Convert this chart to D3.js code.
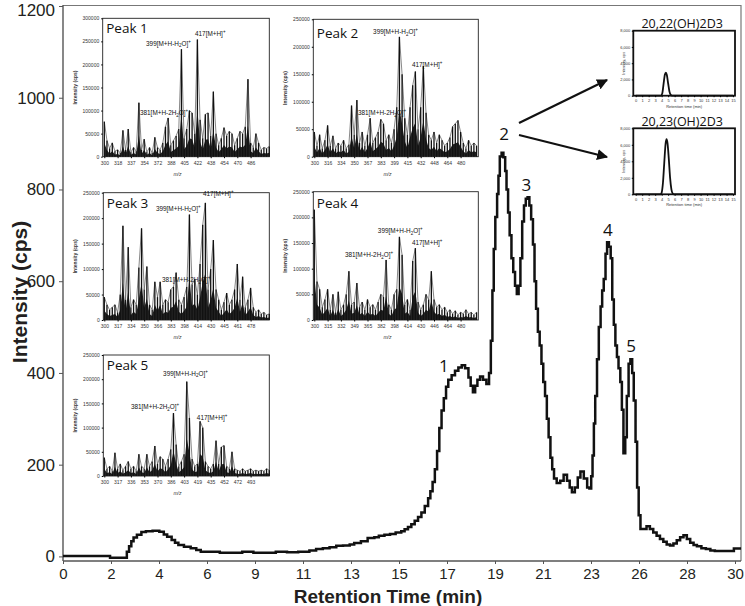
<!DOCTYPE html>
<html><head><meta charset="utf-8">
<script src="https://cdn.jsdelivr.net/npm/d3@7"></script>
<style>body{margin:0;background:#fff}svg{display:block}</style>
</head><body>
<svg id="c" width="745" height="606"></svg>
<script>
// ---------------- DATA ----------------
const yTicks=[0,200,400,600,800,1000,1200];
const xTickLabels=["0","2","4","6","9","11","13","15","17","19","21","23","26","28","30"];
const chromTime=[0,0.5,1,1.5,2,2.1,2.75,2.85,2.95,3.05,3.15,3.3,3.5,3.7,4,4.3,4.5,4.65,4.85,5,5.15,5.4,5.7,5.95,6.15,6.5,7,7.5,8,8.5,9,9.5,10,10.5,11,11.3,11.6,11.9,12.2,12.5,12.8,13,13.3,13.6,13.9,14.1,14.35,14.6,14.85,15.1,15.25,15.4,15.55,15.7,15.85,16,16.15,16.3,16.4,16.5,16.6,16.7,16.8,16.9,17,17.1,17.2,17.35,17.5,17.65,17.8,17.95,18.1,18.2,18.3,18.4,18.5,18.62,18.75,18.9,19.02,19.1,19.17,19.23,19.3,19.38,19.44,19.5,19.58,19.66,19.74,19.8,19.87,19.94,20.02,20.1,20.18,20.26,20.34,20.42,20.5,20.58,20.66,20.74,20.82,20.9,20.98,21.05,21.12,21.2,21.28,21.36,21.44,21.52,21.6,21.68,21.76,21.84,21.92,22.04,22.2,22.35,22.5,22.62,22.72,22.85,22.98,23.1,23.25,23.4,23.5,23.58,23.64,23.7,23.76,23.84,23.92,24,24.07,24.14,24.22,24.29,24.37,24.45,24.52,24.59,24.66,24.73,24.8,24.88,24.95,25.02,25.1,25.17,25.25,25.33,25.41,25.48,25.56,25.63,25.7,25.78,25.9,26.05,26.2,26.35,26.5,26.65,26.8,26.95,27.1,27.25,27.4,27.55,27.7,27.85,28,28.15,28.3,28.5,28.7,28.9,29.1,29.4,29.7,29.95,30.27];
const chromIntensity=[1,1,1,1,1,-3,-3,10,22,33,41,47,53,55,56,54,48,43,36,30,25,21,18,14,10,10,8,8,10,8,8,10,9,10,13,16,18,20,23,24,26,29,33,40,42,45,47,49,52,55,59,64,70,78,86,96,110,127,142,162,190,230,280,318,345,370,385,395,405,412,417,410,390,372,358,372,385,392,385,376,400,470,580,670,740,790,830,872,880,870,840,800,750,700,650,620,590,572,590,650,730,765,780,783,765,735,680,600,540,490,460,420,380,350,300,260,215,190,170,160,165,178,165,150,140,150,172,185,170,150,148,175,220,290,350,430,500,545,580,605,660,685,675,650,560,505,460,435,410,380,320,225,260,350,420,430,400,340,250,150,90,60,60,66,60,52,45,38,32,26,24,28,35,42,46,38,30,25,22,18,16,13,12,12,12,17,17];
const peakNames=["1","2","3","4","5"];
const peakNameTime=[17.0,19.69,20.69,24.33,25.36];
const peakNameValue=[402,908,797,699,446];

// MS spectra (intensity per m/z bin, cps)
const peak1Spectrum=[76000,35000,18000,30000,12000,15000,8000,57000,15000,60000,10000,20000,12000,117000,15000,38000,10000,20000,8000,42000,20000,15000,30000,65000,84000,25000,35000,45000,60000,233000,40000,60000,100000,95000,50000,254000,80000,40000,92000,95000,45000,141000,50000,25000,40000,63000,45000,55000,50000,25000,40000,55000,50000,65000,168000,30000,20000,50000,30000,15000,20000,18000,22000];
const peak2Spectrum=[45000,20000,40000,15000,30000,57000,20000,38000,15000,25000,20000,30000,15000,22000,93000,40000,103000,25000,45000,20000,40000,70000,25000,35000,45000,68000,60000,30000,40000,25000,50000,90000,218000,150000,70000,40000,90000,130000,155000,50000,90000,165000,80000,40000,30000,45000,25000,40000,30000,20000,25000,35000,55000,60000,66000,45000,25000,15000,30000,20000,25000,20000];
const peak3Spectrum=[45000,30000,20000,25000,30000,15000,50000,185000,40000,143000,25000,40000,30000,103000,180000,60000,105000,30000,20000,75000,45000,75000,30000,40000,35000,60000,65000,93000,40000,30000,45000,65000,207000,70000,80000,50000,110000,187000,230000,60000,100000,157000,60000,40000,20000,35000,53000,30000,40000,60000,110000,40000,85000,25000,40000,63000,25000,15000,20000,12000,15000,10000,12000];
const peak4Spectrum=[215000,75000,60000,25000,40000,60000,20000,50000,15000,55000,20000,30000,50000,95000,30000,35000,72000,25000,35000,20000,40000,25000,30000,20000,35000,50000,45000,117000,30000,20000,50000,60000,162000,127000,30000,40000,20000,115000,140000,35000,20000,30000,50000,40000,95000,40000,25000,30000,20000,25000,15000,20000,12000,18000,10000,15000,12000,20000,12000,15000,10000,15000];
const peak5Spectrum=[38000,15000,20000,10000,48000,15000,25000,12000,20000,30000,15000,20000,10000,45000,20000,15000,45000,20000,30000,62000,25000,40000,35000,20000,35000,55000,130000,65000,20000,30000,45000,195000,120000,35000,20000,25000,113000,100000,30000,20000,15000,25000,73000,25000,60000,63000,20000,15000,50000,15000,12000,10000,15000,10000,12000,15000,10000,12000,10000,12000,10000,15000,12000];
const peak1MzLabels=["300","318","337","354","372","388","405","422","438","454","470","486"];
const peak2MzLabels=["300","316","334","350","367","383","399","415","432","448","464","480"];
const peak3MzLabels=["300","317","334","350","366","383","398","414","430","445","461","478"];
const peak4MzLabels=["300","315","332","349","365","382","398","414","430","446","464","480"];
const peak5MzLabels=["300","317","336","353","370","386","403","419","435","452","472","493"];
const peakTitles=["Peak 1","Peak 2","Peak 3","Peak 4","Peak 5"];
const msMax=[300000,250000,250000,250000,250000];
// annotations: [text, bin, intensity]
const peak1Annot=[["399[M+H-H_2O]^+",15.7,241000],["417[M+H]^+",34.1,262700],["381[M+H-2H_2O]^+",13.4,90400]];
const peak2Annot=[["399[M+H-H_2O]^+",22.1,223000],["417[M+H]^+",36.7,163000],["381[M+H-2H_2O]^+",16.4,75900]];
const peak3Annot=[["417[M+H]^+",37.1,243500],["399[M+H-H_2O]^+",19.4,215000],["381[M+H-2H_2O]^+",21.7,74600]];
const peak4Annot=[["399[M+H-H_2O]^+",23.9,169500],["417[M+H]^+",36.7,146100],["381[M+H-2H_2O]^+",11.5,122800]];
const peak5Annot=[["399[M+H-H_2O]^+",22.1,207600],["381[M+H-2H_2O]^+",10.0,138400],["417[M+H]^+",34.8,116700]];

// standard chromatograms
const stdTimeTicks=[0,1,2,3,4,5,6,7,8,9,10,11,12,13,14,15];
const stdIntTicks=[0,2000,4000,6000,8000];
const std2022Time=[0,1,2,3,3.9,4.1,4.3,4.5,4.65,4.8,5,5.2,5.4,5.6,6,8,10,12,14,15];
const std2022Value=[0,0,0,0,0,300,1500,2600,2830,2550,1500,500,100,0,0,0,0,0,0,0];
const std2023Time=[0,1,2,3,3.85,4,4.2,4.4,4.6,4.75,4.9,5.1,5.3,5.5,5.7,5.9,6,8,10,12,14,15];
const std2023Value=[0,0,0,0,0,200,1400,3800,6100,6670,6200,4300,2000,600,100,0,0,0,0,0,0,0];
const stdTitles=["20,22(OH)2D3","20,23(OH)2D3"];

// ---------------- LAYOUT ----------------
const svg=d3.select("#c");
const sans="'Liberation Sans',Arial,sans-serif";
const myr="'Open Sans','Noto Sans',sans-serif";
const x=d3.scaleLinear().domain([0,30]).range([63,735]);
const y=d3.scaleLinear().domain([-10,1200]).range([561,6]);

// frame
svg.append("line").attr("x1",63).attr("x2",741).attr("y1",5.5).attr("y2",5.5).attr("stroke","#777").attr("stroke-width",1.2);
svg.append("line").attr("x1",741).attr("x2",741).attr("y1",5).attr("y2",561).attr("stroke","#777").attr("stroke-width",1.2);
svg.append("line").attr("x1",63).attr("x2",63).attr("y1",5).attr("y2",561).attr("stroke","#555").attr("stroke-width",1.4);
svg.append("line").attr("x1",63).attr("x2",741).attr("y1",561).attr("y2",561).attr("stroke","#555").attr("stroke-width",1.4);

const ya=svg.append("g").attr("transform","translate(63,0)")
  .call(d3.axisLeft(y).tickValues(yTicks).tickFormat(d3.format("d")).tickSize(4).tickPadding(4));
ya.select(".domain").remove();
ya.selectAll("line").attr("stroke","#555");
ya.selectAll("text").attr("font-family",sans).attr("font-size",17).attr("fill","#231f20");
ya.selectAll("text").filter(d=>d===1200).attr("dy","0.55em");

const xa=svg.append("g").attr("transform","translate(0,561)")
  .call(d3.axisBottom(x).tickValues(xTickLabels.map((d,i)=>i*30/14)).tickFormat((d,i)=>xTickLabels[i]).tickSize(3).tickPadding(4));
xa.select(".domain").remove();
xa.selectAll("line").attr("stroke","#555");
xa.selectAll("text").attr("font-family","'Liberation Sans Narrow','Arial Narrow',"+sans).attr("font-size",15).attr("fill","#231f20");

svg.append("text").attr("x",388).attr("y",603).attr("text-anchor","middle")
  .attr("font-family",sans).attr("font-weight","bold").attr("font-size",19).attr("fill","#231f20").text("Retention Time (min)");
svg.append("text").attr("transform","translate(27,292) rotate(-90)").attr("text-anchor","middle")
  .attr("font-family",sans).attr("font-weight","bold").attr("font-size",21).attr("fill","#231f20").text("Intensity (cps)");

// chromatogram
const chrom=chromTime.map((t,i)=>[t,chromIntensity[i]]);
svg.append("path").datum(chrom)
  .attr("d",d3.line().x(d=>x(d[0])).y(d=>y(d[1])).curve(d3.curveStepAfter))
  .attr("fill","none").attr("stroke","#111").attr("stroke-width",2.5).attr("stroke-linejoin","miter");
peakNames.forEach((n,i)=>{
  svg.append("text").attr("x",x(peakNameTime[i])).attr("y",y(peakNameValue[i])).attr("text-anchor","middle")
   .attr("font-family",myr).attr("font-size",17).attr("fill","#111").text(n);
});

// arrows
const defs=svg.append("defs");
defs.append("marker").attr("id","ah").attr("viewBox","0 0 10 10").attr("refX",9).attr("refY",5)
  .attr("markerWidth",5).attr("markerHeight",5).attr("orient","auto")
  .append("path").attr("d","M0,0 L10,5 L0,10 z").attr("fill","#111");
[[519,123,607,80],[519,135,607,157]].forEach(a=>{
  svg.append("line").attr("x1",a[0]).attr("y1",a[1]).attr("x2",a[2]).attr("y2",a[3])
   .attr("stroke","#111").attr("stroke-width",2.2).attr("marker-end","url(#ah)");
});

// annotation text with _sub and ^sup
function richText(g,str,xp,yp,fs){
  const t=g.append("text").attr("x",xp).attr("y",yp).attr("font-family",sans).attr("font-size",fs).attr("fill","#111");
  let buf="",pend=0;
  const flush=()=>{if(buf){const s=t.append("tspan").text(buf);if(pend){s.attr("dy",pend);pend=0;}buf="";}};
  for(let i=0;i<str.length;i++){
    const c=str[i];
    if(c==="_"||c==="^"){flush();
      const sh=c==="_"?fs*0.25:-fs*0.45;
      t.append("tspan").attr("dy",sh+pend).attr("font-size",fs*0.7).text(str[i+1]);
      pend=-sh;
      i++;
    } else buf+=c;
  }
  flush();
}

// MS insets
const msLayout=[
 {x0:102.7,x1:269.3,y0:18.3,y1:156.7,lx0:104.3,ty:15},
 {x0:313.3,x1:478.3,y0:19.3,y1:156.7,lx0:314.3,ty:18.5},
 {x0:103.3,x1:269.3,y0:192.7,y1:320,lx0:104.3,ty:15.5},
 {x0:313.3,x1:478.3,y0:191.7,y1:320,lx0:314.3,ty:16.5},
 {x0:103.3,x1:269.3,y0:355,y1:476,lx0:104.3,ty:15}
];
const spectra=[peak1Spectrum,peak2Spectrum,peak3Spectrum,peak4Spectrum,peak5Spectrum];
const mzLabels=[peak1MzLabels,peak2MzLabels,peak3MzLabels,peak4MzLabels,peak5MzLabels];
const annots=[peak1Annot,peak2Annot,peak3Annot,peak4Annot,peak5Annot];
const binW=2.66;
spectra.forEach((vals,k)=>{
  const L=msLayout[k];
  const g=svg.append("g");
  const xs=d3.scaleLinear().domain([(L.x0-L.lx0)/binW,(L.x1-L.lx0)/binW]).range([L.x0,L.x1]);
  const ys=d3.scaleLinear().domain([0,msMax[k]]).range([L.y1,L.y0]);
  g.append("rect").attr("x",L.x0).attr("y",L.y0).attr("width",L.x1-L.x0).attr("height",L.y1-L.y0)
   .attr("fill","#fff").attr("stroke","#222").attr("stroke-width",0.9);
  g.append("path").datum(vals).attr("d",d3.area().x((d,i)=>xs(i)).y0(ys(0)).y1(d=>ys(d*0.4)))
   .attr("fill","#222");
  g.append("path").datum(vals).attr("d",d3.line().x((d,i)=>xs(i)).y(d=>ys(d)))
   .attr("fill","none").attr("stroke","#555").attr("stroke-width",0.7);
  g.selectAll(".b").data(vals).enter().append("rect")
   .attr("x",(d,i)=>xs(i)-0.65).attr("width",1.3).attr("y",d=>ys(d)).attr("height",d=>ys(0)-ys(d)).attr("fill","#111");
  const ax=g.append("g").attr("transform",`translate(${L.x0},0)`)
   .call(d3.axisLeft(ys).tickValues(d3.range(0,msMax[k]+1,50000)).tickFormat(d3.format("d")).tickSize(1.5).tickPadding(2));
  ax.select(".domain").remove();
  ax.selectAll("text").attr("font-family",sans).attr("font-size",5).attr("fill","#333");
  const bx=g.append("g").attr("transform",`translate(0,${L.y1})`)
   .call(d3.axisBottom(xs).tickValues(mzLabels[k].map((d,i)=>i*5)).tickFormat((d,i)=>mzLabels[k][i]).tickSize(1.5).tickPadding(3));
  bx.select(".domain").remove();
  bx.selectAll("text").attr("font-family",sans).attr("font-size",5).attr("fill","#333");
  g.append("text").attr("x",xs(5*5.5)).attr("y",L.y1+19).attr("text-anchor","middle")
   .attr("font-family",sans).attr("font-style","italic").attr("font-size",5).attr("fill","#333").text("m/z");
  g.append("text").attr("transform",`translate(${L.x0-26},${(L.y0+L.y1)/2}) rotate(-90)`).attr("text-anchor","middle")
   .attr("font-family",sans).attr("font-weight","bold").attr("font-size",5).attr("fill","#333").text("Intensity (cps)");
  g.append("text").attr("x",L.x0+3.5).attr("y",L.y0+L.ty).attr("font-family",myr).attr("font-size",13.5).attr("fill","#111").text(peakTitles[k]);
  annots[k].forEach(a=>richText(g,a[0],xs(a[1]),ys(a[2]),6.4));
});

// standard chromatogram insets
const stdLayout=[{x0:633.3,x1:735,y0:30.7,y1:95.7},{x0:633.3,x1:735,y0:128.3,y1:194.3}];
const stdData=[[std2022Time,std2022Value],[std2023Time,std2023Value]];
stdData.forEach((sd,k)=>{
  const L=stdLayout[k];
  const g=svg.append("g");
  const xs=d3.scaleLinear().domain([-0.37,15.3]).range([L.x0,L.x1]);
  const ys=d3.scaleLinear().domain([0,8000]).range([L.y1,L.y0]);
  g.append("rect").attr("x",L.x0).attr("y",L.y0).attr("width",L.x1-L.x0).attr("height",L.y1-L.y0)
   .attr("fill","#fff").attr("stroke","#111").attr("stroke-width",1.8);
  const pts=sd[0].map((t,i)=>[t,sd[1][i]]);
  g.append("path").datum(pts).attr("d",d3.line().x(d=>xs(d[0])).y(d=>ys(d[1])).curve(d3.curveMonotoneX))
   .attr("fill","none").attr("stroke","#111").attr("stroke-width",1.8);
  const ax=g.append("g").attr("transform",`translate(${L.x0},0)`)
   .call(d3.axisLeft(ys).tickValues(stdIntTicks).tickSize(1.5).tickPadding(1.5));
  ax.select(".domain").remove();
  ax.selectAll("text").attr("font-family",sans).attr("font-size",4).attr("fill","#333");
  const bx=g.append("g").attr("transform",`translate(0,${L.y1})`)
   .call(d3.axisBottom(xs).tickValues(stdTimeTicks).tickSize(1.5).tickPadding(2));
  bx.select(".domain").remove();
  bx.selectAll("text").attr("font-family",sans).attr("font-size",4).attr("fill","#333");
  g.append("text").attr("x",(L.x0+L.x1)/2).attr("y",L.y1+12).attr("text-anchor","middle")
   .attr("font-family",sans).attr("font-size",4).attr("fill","#333").text("Retention time (min)");
  g.append("text").attr("transform",`translate(${L.x0-8},${(L.y0+L.y1)/2}) rotate(-90)`).attr("text-anchor","middle")
   .attr("font-family",sans).attr("font-size",4).attr("fill","#333").text("Intensity, cps");
  g.append("text").attr("x",(L.x0+L.x1)/2-2).attr("y",L.y0-2.5).attr("text-anchor","middle")
   .attr("font-family",myr).attr("font-size",12.5).attr("fill","#111").text(stdTitles[k]);
});
</script>
</body></html>
